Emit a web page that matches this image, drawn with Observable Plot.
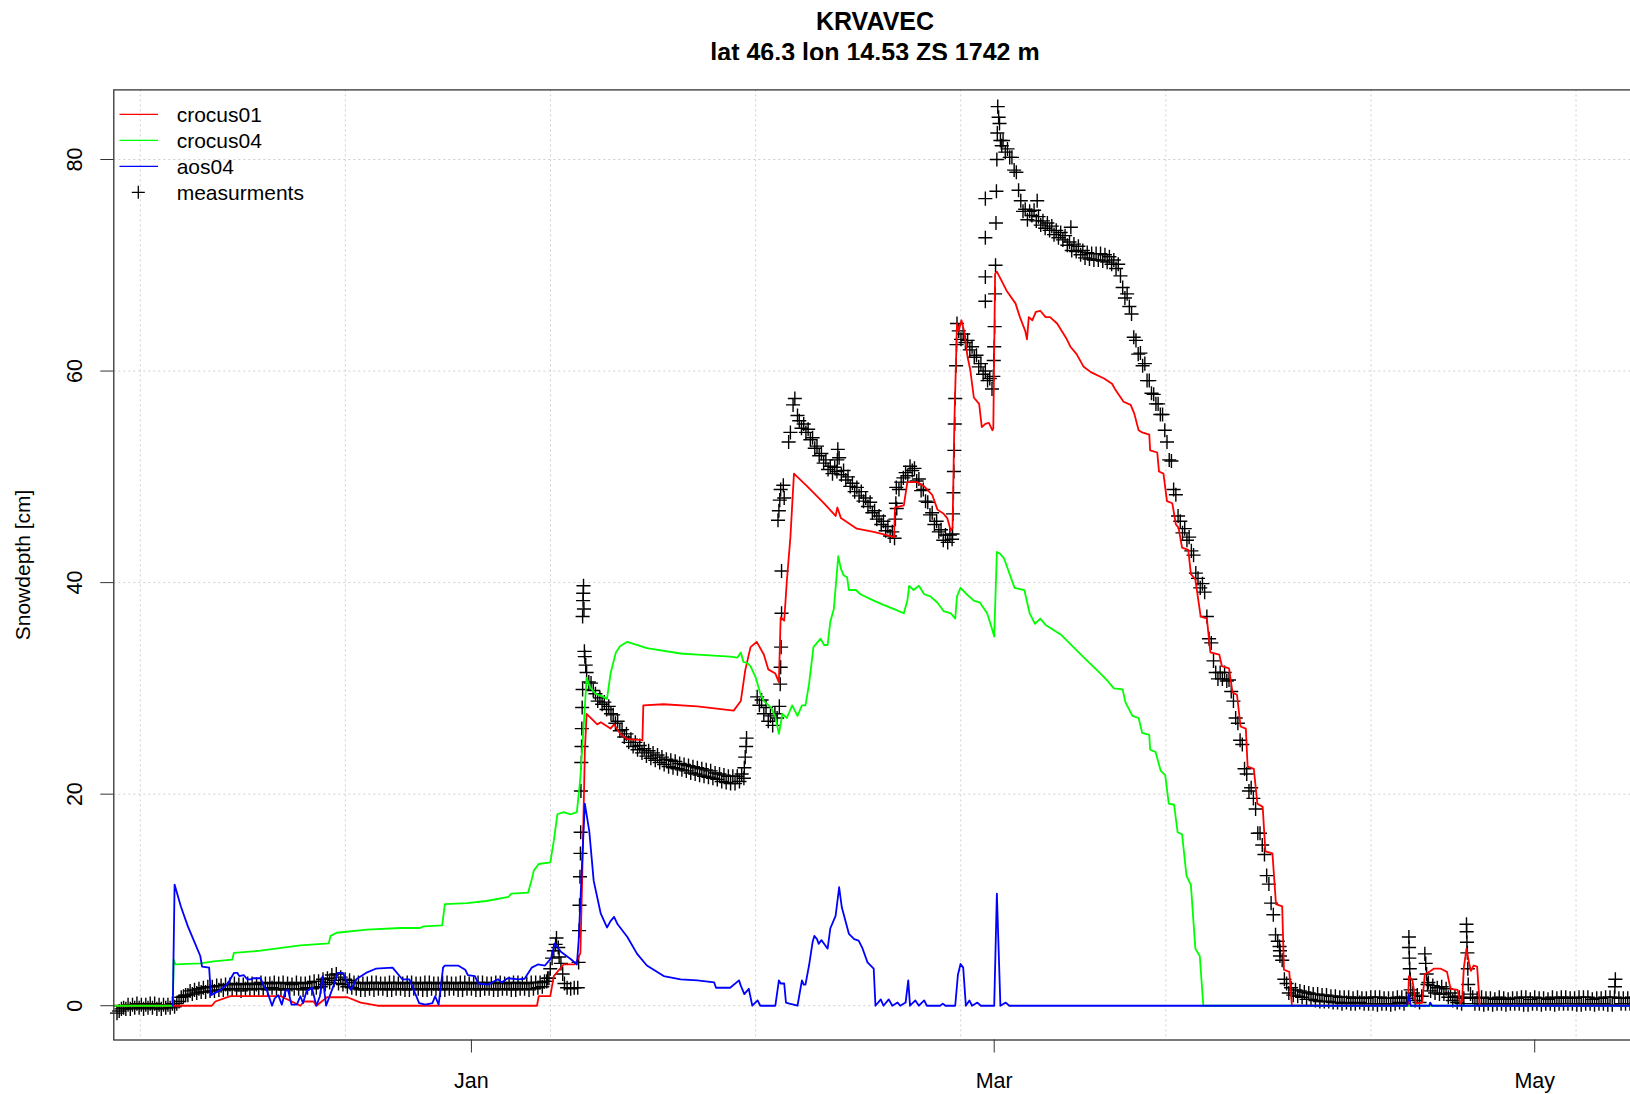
<!DOCTYPE html>
<html><head><meta charset="utf-8">
<script src="https://cdn.jsdelivr.net/npm/d3@7"></script>
<script src="https://cdn.jsdelivr.net/npm/@observablehq/plot@0.6"></script>
<style>
body{margin:0;background:#fff;overflow:hidden;font-family:"Liberation Sans",Arial,sans-serif;}
#wrap{position:relative;width:1630px;height:1094px;overflow:hidden;}
.title{position:absolute;left:0;width:1750px;text-align:center;font-weight:bold;font-size:25px;line-height:30px;color:#000;}
#chart{position:absolute;left:0;top:60px;}
#legend{position:absolute;left:0;top:0;}
</style></head><body>
<div id="wrap">
<div class="title" style="top:6px">KRVAVEC</div>
<div class="title" style="top:37px">lat 46.3 lon 14.53 ZS 1742 m</div>
<div id="chart"></div>
<svg id="legend" width="400" height="220"></svg>
</div>
<script>
// ---- data: days since 2017-01-01 00:00 UTC, snow depth in cm ----
const seriesNames = ["crocus01", "crocus04", "aos04", "measurments"];
const seriesColors = ["#ff0000", "#00ff00", "#0000ff", "#000000"];

const crocus01 = [[-40.3,0],[-33.2,0],[-29.3,0],[-28.9,0.4],[-27.2,0.9],[-21.5,0.9],[-19.3,0],[-18.9,0.4],[-17.8,0.4],[-17.5,0],[-16.3,0.8],[-14.0,0.8],[-12.5,0.3],[-10.6,0],[7.4,0],[7.6,0.9],[8.9,0.9],[9.3,2.8],[10.4,3.9],[11.6,3.9],[11.9,4.2],[12.3,5.0],[12.5,12],[12.8,24],[13.0,27.6],[14.2,26.6],[14.6,26.8],[15.7,26.2],[16.1,26.6],[16.8,25.7],[17.6,25.2],[19.3,25.1],[19.4,28.4],[21.7,28.5],[25.5,28.3],[29.6,27.9],[30.4,28.8],[30.9,31.7],[31.5,33.9],[32.2,34.4],[33.0,33.2],[33.5,31.8],[34.3,31.4],[34.7,30.6],[34.9,36.7],[35.3,36.4],[35.6,40.2],[36.0,44.3],[36.4,50.3],[36.9,49.9],[37.9,49.1],[39.8,47.5],[41.1,46.3],[41.3,47.1],[41.7,46.1],[43.5,45.1],[45.4,44.8],[46.9,44.5],[47.7,44.3],[47.8,47.1],[48.8,47.3],[49.2,49.5],[50.3,49.5],[51.1,49.1],[52.0,48.3],[52.6,46.9],[53.3,46.5],[53.7,46.1],[54.1,44.9],[54.3,45.2],[54.5,55],[54.8,64.5],[55.0,63.8],[55.3,64.8],[55.6,63.8],[56.0,61.3],[56.3,60.1],[56.7,57.5],[57.3,56.9],[57.6,54.7],[58.0,55.0],[58.4,55.1],[58.8,54.4],[58.9,54.6],[59.1,69.2],[59.3,69.4],[60.4,67.6],[61.4,66.4],[61.9,65.1],[62.5,63.8],[62.7,63.0],[62.9,65.1],[63.3,64.8],[63.7,65.6],[64.2,65.7],[64.8,65.1],[65.3,65.1],[66.1,64.5],[67.2,63.0],[67.6,62.3],[68.3,61.6],[69.1,60.4],[69.9,59.9],[71.4,59.3],[72.3,58.8],[72.7,58.2],[73.6,57.1],[74.4,56.8],[74.8,56.0],[75.3,54.4],[75.7,54.2],[76.5,54.0],[76.6,52.5],[77.4,52.3],[77.6,50.5],[78.1,50.3],[78.5,47.7],[79.1,47.5],[79.5,45.5],[79.8,45.2],[80.2,43.3],[80.9,43.1],[81.2,40.8],[81.7,40.3],[82.3,36.8],[83.0,36.6],[83.4,33.4],[84.4,33.2],[84.7,32.1],[85.5,31.9],[85.9,29.6],[86.4,29.4],[86.8,26.4],[87.4,26.2],[87.6,22.6],[88.3,22.4],[88.7,19.1],[89.3,18.8],[89.6,14.6],[90.4,14.4],[90.8,9.6],[91.5,9.4],[91.7,3.4],[92.3,3.2],[92.6,0],[105.7,0],[105.8,2.8],[106.2,2.4],[106.6,0.2],[107.3,0.3],[107.6,3.0],[108.1,3.2],[108.6,3.5],[109.4,3.5],[110.1,3.2],[110.5,1.6],[111.3,1.5],[111.6,0.2],[111.8,0.4],[112.0,3.6],[112.3,5.4],[112.6,4.0],[112.8,3.3],[113.1,3.8],[113.5,3.7],[113.8,0],[131.6,0]];

const crocus04 = [[-40.3,0],[-33.7,0],[-33.6,4.35],[-33.4,3.9],[-30.6,4.0],[-29.1,4.2],[-27.0,4.35],[-26.8,5.0],[-23.8,5.2],[-19.3,5.7],[-16.1,5.9],[-15.9,6.6],[-15.2,6.9],[-11.8,7.2],[-8.0,7.35],[-5.8,7.35],[-5.4,7.5],[-3.3,7.6],[-3.0,9.6],[-0.5,9.7],[1.7,9.9],[4.2,10.3],[4.5,10.6],[6.4,10.7],[6.8,11.9],[7.05,12.8],[7.6,13.4],[8.9,13.55],[9.3,15.6],[9.7,18.1],[10.4,18.3],[11.2,18.1],[11.9,18.3],[12.3,21.6],[12.7,26.9],[13.0,31.0],[13.4,30.1],[14.0,29.5],[14.9,29.2],[15.3,29.0],[15.7,31.4],[16.3,33.4],[16.8,34.0],[17.6,34.4],[19.8,33.8],[23.6,33.3],[25.5,33.2],[29.2,33.0],[30.0,32.9],[30.4,33.4],[30.7,32.5],[31.1,32.4],[31.5,32.1],[32.1,31.0],[32.6,29.5],[33.0,28.8],[33.8,28.2],[34.3,27.3],[34.7,25.7],[35.1,27.6],[35.6,27.2],[36.2,28.4],[36.8,27.4],[37.3,28.4],[37.7,28.4],[38.1,30.4],[38.6,33.9],[39.0,34.3],[39.4,34.7],[39.8,34.1],[40.2,34.1],[40.5,36.3],[40.9,37.5],[41.4,42.5],[41.7,41.3],[42.0,40.7],[42.4,40.5],[42.6,39.3],[43.4,39.3],[43.9,38.9],[45.4,38.3],[46.5,37.9],[47.7,37.5],[48.8,37.1],[49.2,38.3],[49.4,39.7],[49.9,39.3],[50.5,39.7],[51.1,38.9],[51.8,38.7],[52.6,38.1],[53.3,37.3],[54.1,37.1],[54.6,36.6],[54.8,38.7],[55.2,39.5],[55.9,38.9],[56.7,38.3],[57.4,38.1],[58.2,37.1],[58.8,35.5],[59.0,34.9],[59.3,42.9],[59.7,42.7],[60.1,42.3],[61.3,39.5],[62.4,39.3],[63.0,37.1],[63.6,36.1],[64.2,36.6],[64.8,36.0],[66.5,35.1],[68.9,33.1],[71.0,31.4],[71.8,30.7],[72.5,30.0],[73.5,29.9],[73.8,28.7],[74.6,27.4],[75.3,27.2],[75.7,25.8],[76.5,25.6],[76.6,24.2],[77.2,24.0],[77.8,22.2],[78.3,21.8],[78.7,19.1],[79.3,19.0],[79.7,16.4],[80.2,16.2],[80.7,12.3],[81.2,11.4],[81.7,5.4],[82.2,4.7],[82.6,0],[131.6,0]];

const aos04 = [[-33.7,0],[-33.5,11.45],[-32.8,9.4],[-32.0,7.5],[-31.3,6.1],[-30.6,4.7],[-30.4,3.7],[-29.6,3.6],[-29.4,1.0],[-28.3,1.5],[-27.5,2.1],[-26.8,3.1],[-26.4,3.1],[-26.2,2.8],[-25.7,2.9],[-25.3,2.5],[-24.9,2.5],[-24.6,2.6],[-23.8,2.6],[-23.4,1.8],[-23.1,1.5],[-22.5,0],[-22.2,0.7],[-21.8,1.0],[-21.4,0.1],[-21.0,1.4],[-20.7,1.5],[-20.3,0.1],[-19.7,0.1],[-19.3,0.9],[-19.0,0.25],[-18.6,1.4],[-18.0,1.7],[-17.5,0],[-17.1,0.9],[-16.8,2.8],[-16.4,0],[-15.6,1.8],[-15.1,3.1],[-14.5,3.1],[-14.2,2.5],[-13.6,1.5],[-13.0,2.5],[-11.9,3.1],[-10.8,3.5],[-8.9,3.6],[-7.8,2.5],[-7.0,2.5],[-5.9,0.25],[-5.2,0.1],[-4.4,0.25],[-4.1,0.9],[-3.7,0.1],[-3.2,3.6],[-3.0,3.8],[-1.5,3.8],[-0.7,3.4],[-0.4,2.9],[0.4,2.8],[0.75,2.1],[1.9,2.0],[3.0,2.5],[3.4,2.2],[4.1,2.6],[5.3,2.5],[6.0,2.55],[6.8,3.6],[7.5,3.9],[8.3,3.8],[9.0,4.5],[9.4,5.9],[10.1,5.1],[11.3,4.35],[11.9,3.9],[12.1,6.1],[12.5,13.7],[12.8,19.1],[13.3,16.5],[13.8,11.8],[14.6,8.7],[15.3,7.4],[15.7,8.0],[16.1,8.4],[16.5,7.7],[17.6,6.5],[18.7,4.9],[19.8,3.8],[21.7,2.8],[23.6,2.5],[25.5,2.4],[27.4,2.2],[27.6,1.7],[29.2,1.7],[30.2,2.4],[30.4,1.9],[30.8,1.1],[31.3,1.6],[31.7,0],[32.3,0.5],[32.6,0],[34.3,0],[34.7,2.4],[34.9,2.1],[35.3,2.1],[35.5,0.3],[35.9,0.2],[36.8,0],[37.3,2.4],[37.5,2.0],[37.7,2.0],[38.1,3.8],[38.5,6.0],[38.7,6.6],[39.0,6.3],[39.2,5.85],[39.5,6.2],[39.8,5.85],[40.2,5.4],[40.5,7.3],[41.1,8.5],[41.5,11.2],[41.8,9.3],[42.2,8.05],[42.6,6.8],[43.2,6.3],[43.7,6.15],[44.1,5.5],[44.7,4.1],[45.4,3.5],[45.6,0],[46.2,0.6],[46.5,0],[47.1,0.6],[47.5,0],[48.1,0.3],[48.4,0],[49.0,0.3],[49.3,2.4],[49.5,0],[50.1,0.5],[50.5,0],[51.1,0.5],[51.4,0],[52.9,0],[53.2,0.2],[53.5,0],[54.6,0],[54.9,2.9],[55.2,3.95],[55.5,3.6],[55.8,0],[56.2,0.5],[56.5,0],[57.1,0.3],[57.5,0],[59.0,0],[59.3,10.6],[59.7,0],[60.3,0.3],[60.7,0],[105.6,0],[105.8,1.1],[106.0,0],[108.1,0],[108.2,0.3],[108.4,0],[131.6,0]];

// measurements, 6-hourly readings: [day, 00h, 06h, 12h, 18h] (null = no reading)
const measSixHourly = [
[-40,-0.7,-0.5,-0.3,-0.2],[-39,-0.3,0.1,-0.3,0.1],[-38,-0.2,0.2,-0.2,0.1],[-37,-0.3,0.1,-0.2,0.2],[-36,-0.2,0.2,-0.3,0.1],[-35,-0.3,0.1,-0.2,0.1],[-34,-0.2,0.2,-0.1,0.2],
[-33,0.4,0.8,0.9,1.0],[-32,1.0,1.4,1.1,1.5],[-31,1.2,1.6,1.3,1.7],[-30,1.3,1.8,1.4,1.8],[-29,1.4,1.9,1.5,1.9],[-28,1.5,2.0,1.6,2.0],[-27,1.5,2.1,1.6,2.0],[-26,1.4,2.0,1.6,2.1],[-25,1.5,2.1,1.6,2.0],[-24,1.6,2.2,1.6,2.1],[-23,1.5,2.1,1.7,2.2],[-22,1.6,2.1,1.5,2.2],[-21,1.5,2.1,1.6,2.0],[-20,1.6,2.2,1.6,2.1],[-19,1.5,2.1,1.7,2.2],[-18,1.6,2.3,1.7,2.3],[-17,1.8,2.5,2.0,2.6],[-16,2.2,2.9,2.4,3.0],[-15,2.1,2.7,2.0,2.5],[-14,1.8,2.4,1.7,2.2],[-13,1.6,2.2,1.5,2.1],
[-12,1.5,2.1,1.6,2.2],[-11,1.5,2.2,1.6,2.1],[-10,1.6,2.1,1.5,2.2],[-9,1.5,2.2,1.6,2.1],[-8,1.6,2.1,1.5,2.2],[-7,1.5,2.2,1.6,2.1],[-6,1.6,2.1,1.5,2.2],[-5,1.5,2.2,1.6,2.1],[-4,1.6,2.1,1.5,2.2],[-3,1.5,2.2,1.6,2.1],[-2,1.6,2.1,1.5,2.2],[-1,1.5,2.2,1.6,2.1],[0,1.6,2.1,1.5,2.2],[1,1.5,2.2,1.6,2.1],[2,1.6,2.1,1.5,2.2],[3,1.5,2.2,1.6,2.1],[4,1.6,2.1,1.5,2.2],[5,1.5,2.2,1.6,2.1],[6,1.6,2.1,1.5,2.2],[7,1.6,2.2,1.7,2.2],[8,1.8,2.3,2.3,2.6],
[13,31.5,30.6,30.5,29.8],[14,29.5,28.8,29.1,28.5],[15,28.7,28.0,28.3,27.6],[16,27.5,26.7,26.9,26.0],[17,26.1,25.4,25.7,24.9],[18,25.2,24.5,24.9,24.2],[19,24.6,23.9,24.3,23.6],[20,24.1,23.4,23.9,23.2],[21,23.7,23.0,23.5,22.8],[22,23.3,22.6,23.2,22.5],[23,23.1,22.4,22.9,22.3],[24,22.8,22.2,22.7,22.0],[25,22.6,21.9,22.5,21.8],[26,22.4,21.7,22.3,21.6],[27,22.2,21.5,22.0,21.4],[28,21.9,21.2,21.8,21.1],[29,21.7,21.0,21.7,21.0],[30,21.7,21.2,21.9,21.5],
[32,null,29.2,28.4,28.9],[33,27.6,28.2,26.9,27.4],[34,26.5,27.6,27.2,28.3],
[37,55.3,54.6,55.0,54.2],[38,54.5,53.5,53.7,52.7],[39,52.9,52.0,52.2,51.3],[40,51.6,50.7,51.0,50.3],[41,50.9,50.5,51.8,50.2],[42,50.6,49.7,50.0,49.1],[43,49.4,48.6,49.0,48.2],[44,48.6,47.7,48.0,47.2],[45,47.6,46.6,46.8,46.0],[46,46.3,45.5,45.8,44.9],[47,45.3,44.4,44.8,44.2],[48,47.0,48.8,49.5,49.9],[49,50.4,50.1,51.0,50.6],[50,50.8,49.6,49.8,48.7],[51,48.8,47.7,47.6,46.4],[52,46.6,45.5,45.8,44.8],[53,45.0,44.0,44.5,43.8],[54,44.5,44.1,null,null],
[55,63.8,63.0,63.5,62.7],[56,62.9,62.0,62.3,61.3],[57,61.5,60.4,60.7,59.7],[58,60.0,59.1,59.3,58.3],
[60,81.8,80.7,81.0,80.2],[61,80.2,79.0,78.8,77.1],[62,76.1,75.1,75.3,74.3],[63,75.1,74.7,75.2,74.2],[64,74.6,73.8,74.2,73.5],[65,74.0,73.3,73.7,72.9],[66,73.3,72.6,73.1,72.4],[67,72.8,71.9,72.2,71.4],[68,72.0,71.3,71.8,71.0],[69,71.4,70.7,71.2,70.6],[70,71.1,70.5,71.1,70.5],[71,71.1,70.4,71.0,70.3],[72,70.8,70.1,70.5,69.7],[73,70.1,69.0,67.9,66.9],[74,67.3,66.1,65.4,63.2],[75,62.9,61.6,61.7,60.5],[76,60.7,59.1,59.1,57.9],[77,57.8,56.9,56.9,55.9],[78,55.9,54.4,53.3,51.6],[79,51.5,48.8,48.3,46.3],[80,45.8,44.7,45.1,44.0],[81,44.3,43.0,42.6,40.9],[82,40.4,39.5,39.9,39.1],[83,36.8,34.7,34.3,32.6],[84,31.5,30.9,31.5,30.9],[85,31.5,30.7,30.8,29.7],[86,28.8,27.2,26.7,25.1],[87,24.7,22.4,21.9,20.3],[88,20.6,19.6,18.6,16.3],[89,16.3,15.2,14.3,12.3],[90,11.5,9.7,8.6,6.7],[91,6.1,4.7,4.3,2.5],
[92,2.1,1.2,1.7,1.0],[93,1.5,0.9,1.4,0.8],[94,1.3,0.6,1.2,0.6],[95,1.1,0.5,1.1,0.4],[96,1.0,0.4,1.0,0.4],[97,0.9,0.3,0.9,0.3],[98,0.8,0.2,0.8,0.3],[99,0.8,0.2,0.7,0.2],[100,0.8,0.3,0.7,0.2],[101,0.7,0.2,0.8,0.2],[102,0.8,0.1,0.8,0.2],[103,0.7,0.2,0.7,0.1],[104,0.7,0.2,0.8,0.3],[105,0.8,0.2,0.7,null],
[106,null,1.2,0.5,1.0],[107,0.3,0.9,null,null],[108,2.2,1.4,1.9,1.2],[109,1.7,1.1,1.8,1.1],[110,1.6,0.8,1.2,0.5],[111,0.9,0.3,0.8,0.2],[112,0.7,null,null,1.1],
[113,0.8,0.2,0.7,0.2],[114,0.8,0.1,0.7,0.2],[115,0.7,0.1,0.6,0.2],[116,0.8,0.2,0.7,0.1],[117,0.6,0.2,0.7,0.2],[118,0.7,0.2,0.8,0.1],[119,0.8,0.1,0.6,0.2],[120,0.8,0.2,0.7,0.1],[121,0.7,0.2,0.6,0.2],[122,0.8,0.1,0.7,0.2],[123,0.8,0.2,0.8,0.2],[124,0.7,0.2,0.7,0.1],[125,0.8,0.1,0.8,0.2],[126,0.8,0.2,0.6,0.1],[127,0.7,0.2,0.7,0.2],[128,0.8,0.1,0.8,0.1],[129,0.8,null,0.7,0.2],[130,0.7,0.2,0.7,0.2],[131,0.8,0.1,null,null]];

// measurements during fast changes (bursts of hourly readings): [day, cm]
const measBursts = [[8.6,2.6],[8.9,3.5],[9.1,4.5],[9.3,5.2],[9.5,5.8],[9.6,6.4],[9.8,5.5],[9.9,4.6],[10.1,4.0],[10.3,3.0],[10.5,2.1],[10.8,1.7],[11.2,1.6],[11.6,1.7],[12.0,1.7],
[12.1,4.1],[12.15,7.1],[12.2,9.5],[12.25,12.2],[12.3,14.4],[12.33,16.4],[12.36,20.3],[12.4,23.0],[12.43,24.5],[12.46,26.2],[12.5,28.2],[12.55,29.9],
[12.55,36.8],[12.6,38.3],[12.62,39.0],[12.65,39.7],[12.7,37.5],[12.75,33.5],[12.8,33.0],[12.9,32.2],
[30.8,22.5],[30.9,23.5],[31.0,24.5],[31.05,25.3],
[34.85,30.4],[34.9,32.0],[34.95,33.9],[35.0,37.1],[35.0,41.1],
[34.6,45.9],[34.7,46.8],[34.8,47.8],[34.9,48.8],[35.2,49.2],[35.3,48.0],[35.8,53.3],[36.0,54.2],[36.3,56.8],[36.5,57.4],[36.8,55.8],
[41.3,51.6],[41.35,52.6],[47.85,46.0],[47.9,47.5],[47.95,49.0],
[54.3,44.6],[54.35,46.5],[54.4,48.5],[54.45,50.5],[54.5,52.5],[54.55,55.0],[54.6,57.4],[54.7,60.5],[54.75,62.5],[54.8,64.5],
[58.0,76.3],[58.0,72.6],[58.0,68.9],[58.0,66.6],
[58.9,59.5],[58.95,61.0],[59.0,62.3],[59.05,64.2],[59.1,67.3],[59.15,70.0],[59.2,74.0],[59.25,77.0],[59.3,80.0],[59.35,82.5],[59.4,85.0],[59.5,84.0],[59.6,83.4],[59.7,81.8],[59.85,81.3],
[63.85,76.1],[67.65,73.6],[91.2,5.6],[91.25,5.2],
[105.8,6.5],[105.82,5.5],[105.85,4.5],[105.9,3.5],[105.95,2.5],[106.0,1.5],
[107.6,4.9],[107.7,4.0],[107.8,3.0],[107.9,2.0],
[112.3,7.7],[112.32,7.0],[112.35,6.0],[112.4,5.0],[112.45,3.5],[112.5,2.0],[129.05,1.8],[129.1,2.5]];

const yTicks = [0, 20, 40, 60, 80];
const monthTicks = ["2017-01-01", "2017-03-01", "2017-05-01"];
const gridSeconds = [1480e6, 1482e6, 1484e6, 1486e6, 1488e6, 1490e6, 1492e6, 1494e6];
const yLabel = "Snowdepth [cm]";
const xStartDay = -40.36, xEndDay = 131.6;
const yDomain = [-3.24, 86.58];

// ---- build ----
const base = Date.UTC(2017, 0, 1);
const toDate = d => new Date(base + d * 864e5);
const rows = pairs => pairs.map(([d, v]) => ({date: toDate(d), cm: v}));
const red = rows(crocus01), green = rows(crocus04), blue = rows(aos04);
const pts = [];
for (const [day, ...vals] of measSixHourly) vals.forEach((v, k) => { if (v != null) pts.push({date: toDate(day + k * 0.25), cm: v}); });
for (const [d, v] of measBursts) pts.push({date: toDate(d), cm: v});

const W = 1630, H = 1034, ML = 113.3, MT = 29.4, MB = 54.5, MR = -7;

const chart = Plot.plot({
  width: W, height: H,
  marginLeft: ML, marginRight: MR, marginTop: MT, marginBottom: MB,
  x: {type: "utc", domain: [toDate(xStartDay), toDate(xEndDay)]},
  y: {domain: yDomain},
  style: {fontFamily: "'Liberation Sans', Arial, sans-serif", fontSize: "21.5px", color: "#000", background: "#fff", overflow: "visible"},
  marks: [
    Plot.ruleY(yTicks, {y: d => d, stroke: "#cfcfcf", strokeDasharray: "2,3", strokeWidth: 1}),
    Plot.ruleX(gridSeconds, {x: s => new Date(s * 1000), stroke: "#cfcfcf", strokeDasharray: "2,3", strokeWidth: 1}),
    Plot.dot(pts, {x: "date", y: "cm", symbol: "plus", r: 4.6, stroke: seriesColors[3], strokeWidth: 1.4}),
    Plot.line(red, {x: "date", y: "cm", stroke: seriesColors[0], strokeWidth: 1.8}),
    Plot.line(green, {x: "date", y: "cm", stroke: seriesColors[1], strokeWidth: 1.8}),
    Plot.line(blue, {x: "date", y: "cm", stroke: seriesColors[2], strokeWidth: 1.8}),
    Plot.frame({stroke: "#333", strokeWidth: 1.3}),
    Plot.axisX(monthTicks.map(s => new Date(s + "T00:00:00Z")), {tickSize: 13, tickPadding: 20, tickFormat: "%b", label: null, stroke: "#333"}),
    Plot.axisY(yTicks, {tickSize: 13, tickFormat: () => "", label: null, stroke: "#333"}),
    Plot.text(yTicks, {y: d => d, frameAnchor: "left", dx: -38.5, rotate: -90, text: d => String(d), textAnchor: "middle", lineAnchor: "middle", fontSize: 21.5}),
    Plot.text([yLabel], {frameAnchor: "left", dx: -90.4, rotate: -90, text: d => d, textAnchor: "middle", lineAnchor: "middle", fontSize: 21})
  ]
});
document.getElementById("chart").appendChild(chart);

// ---- legend (top-left, no box) ----
const lg = d3.select("#legend");
const rowY = [114.3, 140.3, 166.3, 192.3];
seriesNames.forEach((name, i) => {
  if (i < 3) {
    lg.append("line").attr("x1", 119.5).attr("x2", 158).attr("y1", rowY[i]).attr("y2", rowY[i])
      .attr("stroke", seriesColors[i]).attr("stroke-width", 1.2);
  } else {
    lg.append("path").attr("d", `M${138.3-6.5},${rowY[i]}H${138.3+6.5}M138.3,${rowY[i]-6.5}V${rowY[i]+6.5}`)
      .attr("stroke", "#000").attr("stroke-width", 1.3).attr("fill", "none");
  }
  lg.append("text").attr("x", 176.7).attr("y", rowY[i]).attr("dy", "0.35em")
    .attr("font-size", 21).attr("font-family", "'Liberation Sans', Arial, sans-serif").text(name);
});
</script>
</body></html>
